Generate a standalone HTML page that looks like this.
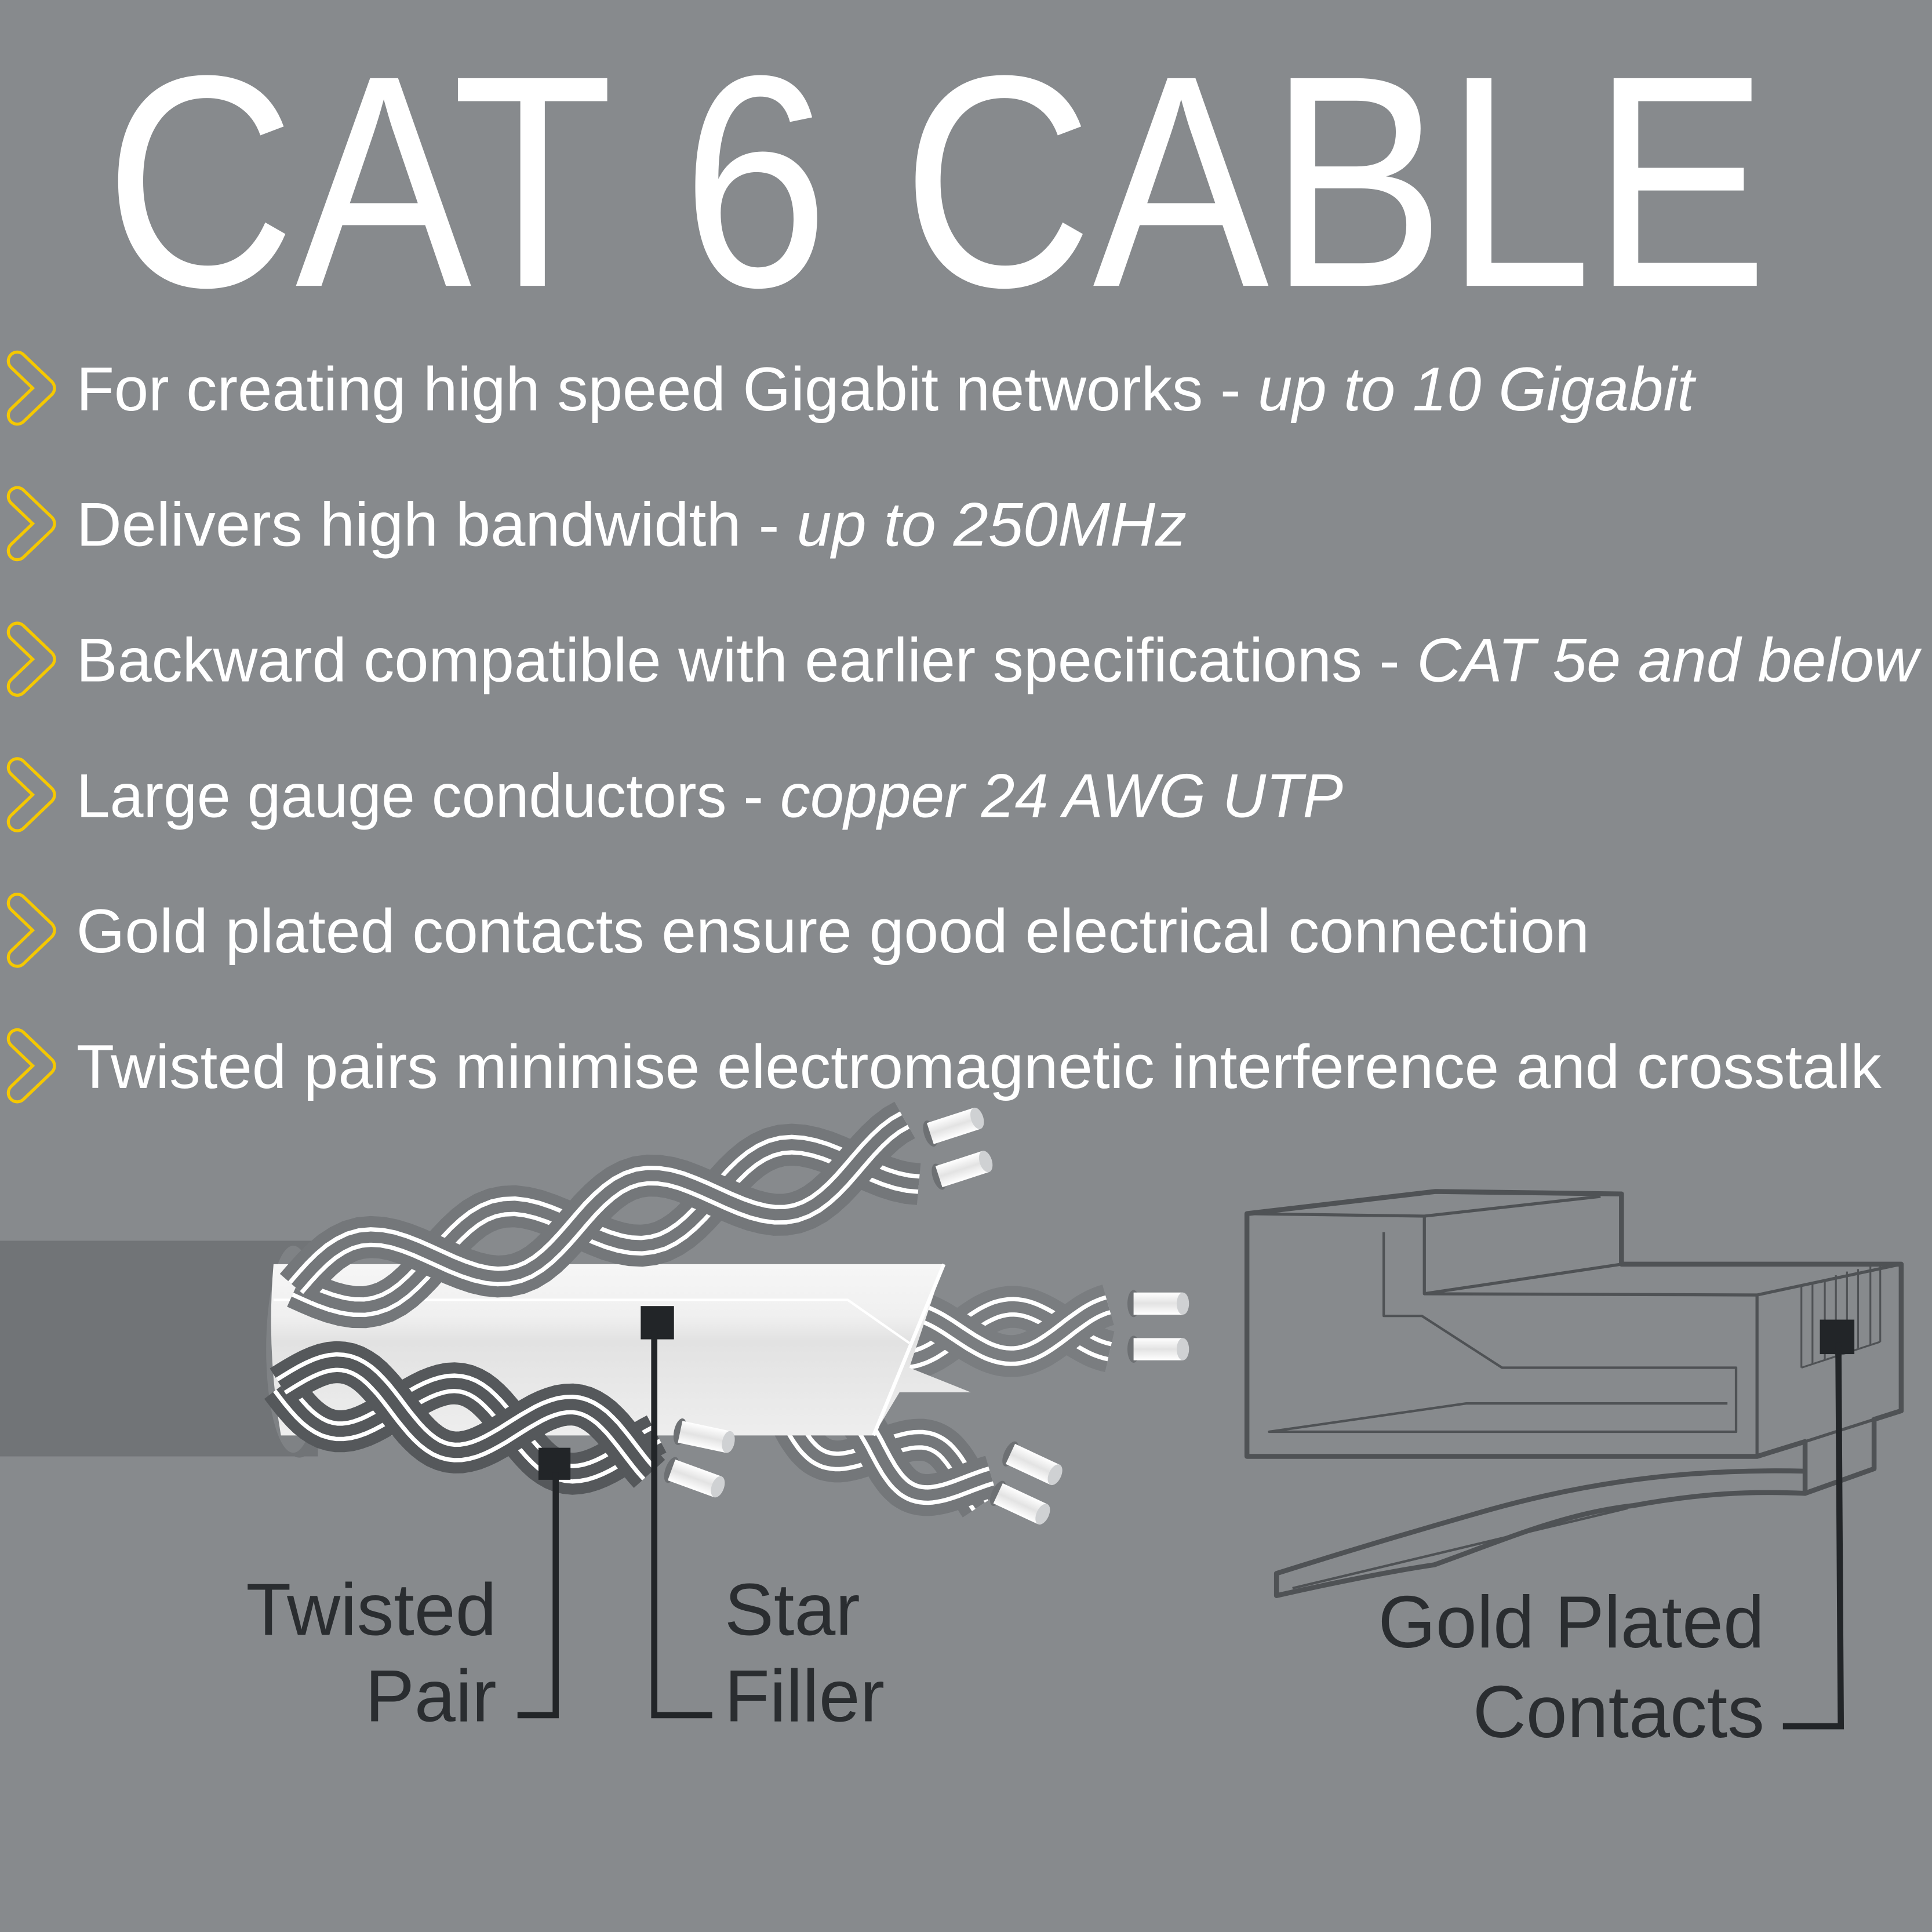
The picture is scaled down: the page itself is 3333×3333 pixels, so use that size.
<!DOCTYPE html>
<html><head><meta charset="utf-8"><style>
html,body{margin:0;padding:0;background:#878a8d;}
svg{display:block;}
</style></head><body>
<svg id="s" width="3333" height="3333" viewBox="0 0 1568 1568" xmlns="http://www.w3.org/2000/svg">
<defs>
<linearGradient id="cyl" x1="0" y1="0" x2="0" y2="1">
<stop offset="0" stop-color="#ffffff"/><stop offset="0.5" stop-color="#e3e3e3"/><stop offset="1" stop-color="#ffffff"/></linearGradient>
<linearGradient id="fil" x1="0" y1="0" x2="0" y2="1">
<stop offset="0" stop-color="#f6f6f6"/><stop offset="0.3" stop-color="#f0f0f0"/><stop offset="0.45" stop-color="#e2e2e2"/><stop offset="1" stop-color="#eeeeee"/></linearGradient>
</defs>
<rect width="1568" height="1568" fill="#878a8d"/>
<text x="85" y="232" font-family="Liberation Sans, sans-serif" font-size="245" fill="#fff" textLength="1350" lengthAdjust="spacingAndGlyphs">CAT 6 CABLE</text>
<g font-family="Liberation Sans, sans-serif" font-size="50" fill="#fff">
<text x="62" y="333" textLength="1313" lengthAdjust="spacingAndGlyphs">For creating high speed Gigabit networks - <tspan font-style="italic">up to 10 Gigabit</tspan></text>
<text x="62" y="443" textLength="901" lengthAdjust="spacingAndGlyphs">Delivers high bandwidth - <tspan font-style="italic">up to 250MHz</tspan></text>
<text x="62" y="553" textLength="1495" lengthAdjust="spacingAndGlyphs">Backward compatible with earlier specifications - <tspan font-style="italic">CAT 5e and below</tspan></text>
<text x="62" y="663" textLength="1028" lengthAdjust="spacingAndGlyphs">Large gauge conductors - <tspan font-style="italic">copper 24 AWG UTP</tspan></text>
<text x="62" y="773" textLength="1228" lengthAdjust="spacingAndGlyphs">Gold plated contacts ensure good electrical connection</text>
<text x="62" y="883" textLength="1465" lengthAdjust="spacingAndGlyphs">Twisted pairs minimise electromagnetic interference and crosstalk</text>
</g>
<g id="chev"></g>
<rect x="0" y="1007" width="258" height="175" fill="#717477"/>
<ellipse cx="243" cy="1095" rx="26" ry="88" fill="#717477"/>
<ellipse cx="238" cy="1095" rx="22" ry="84" fill="#7f8285"/>
<g id="back"></g>
<path d="M222 1026 L766 1026 L738 1110 L788 1130 L730 1130 L709 1165 L228 1165 Q216 1095 222 1026 Z" fill="url(#fil)"/>
<path d="M222 1055 L688 1055 L738 1090" stroke="#ffffff" stroke-width="2" fill="none"/>
<path d="M766 1026 L709 1165" stroke="#ffffff" stroke-width="3" fill="none"/>
<g id="front"></g>
<g fill="none" stroke="#4f5255" stroke-linejoin="round">
<path d="M1012 985 L1165 967 L1316 969 L1316 1026 L1543 1026 L1543 1145 L1521 1152 L1521 1192 L1465 1212 L1465 1170 L1426 1182 L1012 1182 Z" stroke-width="4"/>
<path d="M1012 985 L1156 987 L1156 1050 L1426 1051 L1543 1026 M1156 987 L1299 971 M1316 1026 L1156 1050 M1426 1051 L1426 1181 M1543 1145 L1465 1170" stroke-width="2.5"/>
<path d="M1123 1000 L1123 1068 L1154 1068 L1219 1110 L1409 1110 L1409 1162 L1030 1162 L1190 1139 L1402 1139" stroke-width="2"/>
<path d="M1462 1044 V1110 M1471 1041 V1107 M1481 1038 V1104 M1490 1035 V1100 M1499 1032 V1097 M1508 1030 V1094 M1518 1028 V1091 M1526 1026 V1089 M1462 1110 L1526 1089" stroke-width="1.5"/>
<path d="M1465 1194 C1380 1192 1300 1200 1210 1225 C1150 1242 1090 1260 1036 1277 L1036 1295 C1080 1285 1130 1275 1164 1270 C1220 1250 1270 1228 1325 1222 C1380 1212 1420 1210 1465 1212" stroke-width="4"/>
<path d="M1049 1289 L1321 1224" stroke-width="2"/>
</g>
<g fill="#222528" stroke="none">
<rect x="437" y="1175" width="26" height="26"/>
<rect x="520" y="1060" width="27" height="27"/>
<rect x="1477" y="1071" width="28" height="28"/>
</g>
<g fill="none" stroke="#222528" stroke-width="5">
<path d="M451 1195 V1392 H420"/>
<path d="M531 1080 V1392 H578"/>
<path d="M1492 1090 L1494 1401 H1447"/>
</g>
<g font-family="Liberation Sans, sans-serif" font-size="60" fill="#2a2d30">
<text x="403" y="1327" text-anchor="end">Twisted</text>
<text x="403" y="1397" text-anchor="end">Pair</text>
<text x="588" y="1327">Star</text>
<text x="588" y="1397">Filler</text>
<text x="1432" y="1337" text-anchor="end">Gold Plated</text>
<text x="1432" y="1410" text-anchor="end">Contacts</text>
</g>
<script>
(function(){
var NS="http://www.w3.org/2000/svg";
function el(tag,attrs,parent){var e=document.createElementNS(NS,tag);for(var k in attrs)e.setAttribute(k,attrs[k]);parent.appendChild(e);return e;}
var ch=document.getElementById('chev');
[315,425,535,645,755,865].forEach(function(y){
 var d="M14 "+(y-22)+" L37 "+y+" L14 "+(y+22);
 el('path',{d:d,fill:'none',stroke:'#f5c800','stroke-width':17,'stroke-linecap':'round','stroke-linejoin':'round'},ch);
 el('path',{d:d,fill:'none',stroke:'#878a8d','stroke-width':12,'stroke-linecap':'round','stroke-linejoin':'round'},ch);
});
function wire(g,x0,y0,x1,y1,amp,per,phase,col){
 var dx=x1-x0,dy=y1-y0,L=Math.sqrt(dx*dx+dy*dy),nx=-dy/L,ny=dx/L,pts=[];
 for(var i=0;i<=60;i++){var t=i/60,o=amp*Math.sin(t*per*2*Math.PI+phase);pts.push((x0+dx*t+nx*o).toFixed(1)+","+(y0+dy*t+ny*o).toFixed(1));}
 var d="M"+pts.join(" L");
 [[col,34],["#ffffff",16],[col,9]].forEach(function(s){
  el('path',{d:d,fill:'none',stroke:s[0],'stroke-width':s[1],'stroke-linecap':'butt'},g);});
}
function cyl(g,x,y,ang){
 var gg=el('g',{transform:'translate('+x+','+y+') rotate('+ang+')'},g);
 el('ellipse',{cx:0,cy:0,rx:5,ry:11,fill:'#6d7073'},gg);
 el('rect',{x:0,y:-9,width:40,height:18,fill:'url(#cyl)'},gg);
 el('ellipse',{cx:40,cy:0,rx:5,ry:9,fill:'#cfd1d3'},gg);
}
function pair(g,x0,y0,x1,y1,amp,per,col,ends){
 wire(g,x0,y0,x1,y1,amp,per,0,col);
 wire(g,x0,y0,x1,y1,amp,per,Math.PI,col);
 ends.forEach(function(e){cyl(g,e[0],e[1],e[2]);});
}
var back=document.getElementById('back'),front=document.getElementById('front');
pair(back,690,1085,900,1078,20,1.2,"#7a7d80",[[920,1058,0],[920,1095,0]]);
pair(back,640,1150,800,1210,22,1.1,"#74777a",[[820,1180,25],[810,1212,25]]);
pair(front,240,1045,740,935,28,2.2,"#74777a",[[755,920,-18],[762,955,-18]]);
pair(front,228,1125,530,1180,28,1.6,"#55585b",[[552,1162,12],[545,1193,20]]);
})();
</script>
</svg>
</body></html>
